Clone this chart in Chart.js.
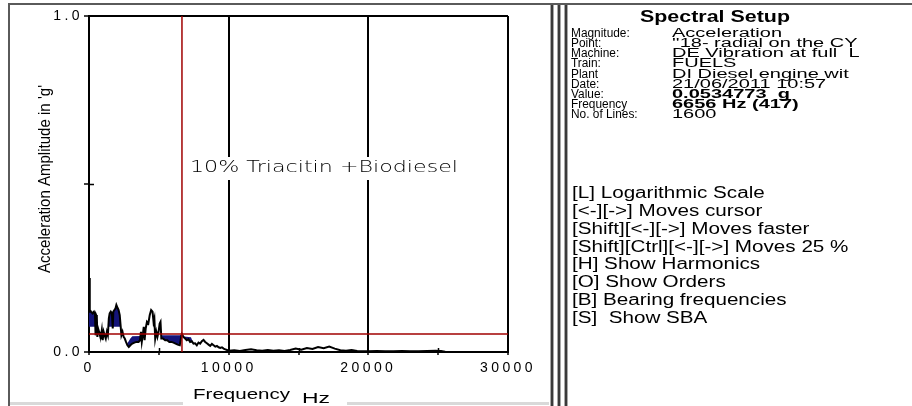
<!DOCTYPE html>
<html>
<head>
<meta charset="utf-8">
<script src="https://cdn.jsdelivr.net/npm/chart.js@4.4.1/dist/chart.umd.min.js"></script>
<style>
  html, body { margin: 0; padding: 0; background: #fff; overflow: hidden; }
  canvas { display: block; }
</style>
</head>
<body>
<canvas id="spectrum" width="912" height="406"></canvas>
<script>
// Acceleration spectrum (g) against frequency (Hz)
const freqHz = [0, 40, 70, 150, 250, 350, 430, 470, 510, 560, 600, 650, 720, 780, 850, 920, 980, 1050, 1120, 1200, 1280, 1350, 1420, 1480, 1560, 1640, 1700, 1740, 1820, 1900, 1960, 2060, 2120, 2200, 2260, 2320, 2400, 2480, 2560, 2650, 2750, 2850, 2960, 3100, 3250, 3400, 3550, 3650, 3720, 3780, 3850, 3920, 3980, 4060, 4150, 4250, 4350, 4450, 4550, 4620, 4680, 4740, 4820, 4900, 4980, 5060, 5120, 5180, 5300, 5450, 5600, 5750, 5900, 6050, 6200, 6350, 6500, 6580, 6656, 6760, 6880, 7000, 7120, 7240, 7360, 7480, 7600, 7720, 7840, 7960, 8080, 8200, 8320, 8440, 8560, 8680, 8800, 8920, 9040, 9160, 9280, 9400, 9520, 9640, 9760, 9880, 10000, 10400, 10800, 11200, 11600, 12000, 12400, 12800, 13200, 13600, 14000, 14400, 14800, 15200, 15600, 16000, 16400, 16800, 17200, 17600, 18000, 18400, 18800, 19200, 19600, 20000, 20600, 21200, 21800, 22400, 23000, 23600, 24200, 24800, 25200, 25500];
const amplitudeG = [0.12, 0.22, 0.125, 0.12, 0.115, 0.12, 0.11, 0.05, 0.11, 0.105, 0.045, 0.07, 0.06, 0.05, 0.045, 0.065, 0.035, 0.06, 0.05, 0.04, 0.06, 0.05, 0.10, 0.115, 0.12, 0.115, 0.07, 0.12, 0.125, 0.13, 0.14, 0.13, 0.125, 0.11, 0.08, 0.05, 0.06, 0.045, 0.04, 0.03, 0.02, 0.015, 0.02, 0.025, 0.028, 0.03, 0.03, 0.035, 0.06, 0.03, 0.05, 0.075, 0.035, 0.07, 0.09, 0.085, 0.11, 0.125, 0.12, 0.09, 0.10, 0.04, 0.06, 0.045, 0.06, 0.085, 0.09, 0.04, 0.04, 0.035, 0.035, 0.03, 0.03, 0.028, 0.025, 0.022, 0.02, 0.04, 0.0534773, 0.045, 0.04, 0.035, 0.038, 0.03, 0.032, 0.025, 0.026, 0.02, 0.028, 0.025, 0.032, 0.036, 0.03, 0.026, 0.022, 0.018, 0.024, 0.02, 0.016, 0.018, 0.014, 0.012, 0.014, 0.01, 0.008, 0.006, 0.004, 0.005, 0.003, 0.006, 0.008, 0.005, 0.004, 0.006, 0.004, 0.005, 0.003, 0.006, 0.01, 0.007, 0.012, 0.009, 0.015, 0.011, 0.016, 0.01, 0.005, 0.004, 0.006, 0.003, 0.002, 0.002, 0.003, 0.002, 0.002, 0.003, 0.002, 0.002, 0.003, 0.004, 0.003, 0.001];

// Lower bound of the dense low-frequency band (shaded where the trace rises above it)
const lowBandFreqHz = [0, 2320];
const lowBandG = [0.075, 0.075];

// Upper bound of the mid band (shaded where it stays above the trace)
const midBandFreqHz = [2700, 2960, 3100, 4400, 5200, 6500, 6656, 6800, 7300, 7480];
const midBandG = [0.022, 0.04, 0.047, 0.048, 0.05, 0.05, 0.052, 0.046, 0.044, 0.025];

// Cursor position and reading
const cursorFreqHz = 6656;
const cursorValueG = 0.0534773;

// Axis ticks
const xTickValues = [0, 5000, 10000, 15000, 20000, 25000, 30000];
const xLabelValues = [0, 10000, 20000, 30000];
const yTickValues = [0, 0.5, 1.0];
const yLabelValues = [0, 1.0];

// Texts
const traceTitle = '10% Triacitin +Biodiesel';
const yAxisTitle = "Acceleration Amplitude in 'g'";
const xAxisTitle = ['Frequency', 'Hz'];
const setupTitle = 'Spectral Setup';
const setupLabels = ['Magnitude:', 'Point:', 'Machine:', 'Train:', 'Plant', 'Date:', 'Value:', 'Frequency', 'No. of Lines:'];
const setupValues = ['Acceleration', "''18- radial on the CY", 'DE Vibration at full  L', 'FUELS', 'DI Diesel engine wit', '21/06/2011 10:57', '0.0534773  g', '6656 Hz (417)', '1600'];
const setupBold = [false, false, false, false, false, false, true, true, false];
const keyHelp = ['[L] Logarithmic Scale', '[<-][->] Moves cursor', '[Shift][<-][->] Moves faster', '[Shift][Ctrl][<-][->] Moves 25 %', '[H] Show Harmonics', '[O] Show Orders', '[B] Bearing frequencies', '[S]  Show SBA'];

const SANS = '"Liberation Sans", Arial, sans-serif';
const NAVY = '#14147a';
const CLEAR = 'rgba(0,0,0,0)';

function toPoints(xs, ys) { return xs.map((x, i) => ({ x: x, y: ys[i] })); }

// Draws text stretched horizontally by sx, or fitted to a width when fitW is given
function drawText(ctx, text, x, y, font, opts) {
  opts = opts || {};
  ctx.save();
  ctx.font = font;
  ctx.letterSpacing = '0px';
  let sx = opts.sx || 1;
  if (opts.fitW) sx = opts.fitW / ctx.measureText(text).width;
  ctx.translate(x, y);
  if (opts.rotate) ctx.rotate(opts.rotate);
  ctx.scale(sx, 1);
  ctx.textAlign = opts.align || 'left';
  ctx.textBaseline = 'middle';
  ctx.fillStyle = opts.color || '#000';
  ctx.fillText(text, 0, 0);
  ctx.restore();
}

// Wide tick lettering for the axes
const tickSpacing = {
  id: 'tickSpacing',
  beforeDraw(chart) { chart.ctx.letterSpacing = '3.4px'; },
  beforeDatasetsDraw(chart) { chart.ctx.letterSpacing = '0px'; }
};

// Window frame, captions and the setup panel
const decorations = {
  id: 'decorations',
  afterDatasetsDraw(chart) {
    const ctx = chart.ctx;
    const x = chart.scales.x, y = chart.scales.y;
    // inner halves of the minor tick marks
    ctx.save();
    ctx.strokeStyle = '#000';
    ctx.lineWidth = 1.5;
    ctx.beginPath();
    [5000, 15000, 25000].forEach(v => {
      const px = Math.round(x.getPixelForValue(v)) + 0.5;
      ctx.moveTo(px, y.bottom - 4); ctx.lineTo(px, y.bottom);
    });
    const py = Math.round(y.getPixelForValue(0.5)) + 0.5;
    ctx.moveTo(x.left, py); ctx.lineTo(x.left + 5, py);
    ctx.stroke();
    ctx.restore();

    // trace caption over a cleared strip
    ctx.save();
    ctx.fillStyle = '#fff';
    ctx.fillRect(185, 157, 277, 23);
    ctx.restore();
    drawText(ctx, traceTitle, 190, 168.5, '200 15px "DejaVu Sans"', { fitW: 268 });
  },
  afterDraw(chart) {
    const ctx = chart.ctx;
    ctx.save();
    // outer frame
    ctx.strokeStyle = '#5a5a5a';
    ctx.lineWidth = 2;
    ctx.beginPath();
    ctx.moveTo(9, 406); ctx.lineTo(9, 4); ctx.lineTo(912, 4);
    ctx.stroke();
    ctx.strokeStyle = '#d9d9d9';
    ctx.lineWidth = 3;
    ctx.beginPath();
    ctx.moveTo(10, 403.5); ctx.lineTo(183, 403.5);
    ctx.moveTo(347, 403.5); ctx.lineTo(549, 403.5);
    ctx.stroke();
    // splitter bars
    [550, 557, 564].forEach(bx => {
      ctx.fillStyle = '#a8a8a8'; ctx.fillRect(bx, 5, 4, 401);
      ctx.fillStyle = '#3a3a3a'; ctx.fillRect(bx + 1, 5, 2, 401);
    });
    ctx.restore();

    // axis titles
    drawText(ctx, yAxisTitle, 45, 179, '17px ' + SANS, { fitW: 188, rotate: -Math.PI / 2, align: 'center' });
    drawText(ctx, xAxisTitle[0], 193, 395, '14px ' + SANS, { fitW: 97 });
    drawText(ctx, xAxisTitle[1], 302, 399, '14px ' + SANS, { fitW: 28 });

    // setup panel
    drawText(ctx, setupTitle, 640, 17.5, 'bold 17px ' + SANS, { fitW: 150 });
    setupLabels.forEach((t, i) => {
      drawText(ctx, t, 571, 33.5 + i * 10.15, '12.5px ' + SANS, { sx: 0.95 });
    });
    setupValues.forEach((t, i) => {
      drawText(ctx, t, 672, 33.5 + i * 10.15, (setupBold[i] ? 'bold ' : '') + '12.5px ' + SANS, { sx: 1.6 });
    });
    keyHelp.forEach((t, i) => {
      drawText(ctx, t, 572, 194 + i * 17.76, '16px ' + SANS, { sx: 1.29 });
    });
  }
};

const chart = new Chart(document.getElementById('spectrum'), {
  type: 'line',
  data: {
    datasets: [
      { // cursor level
        data: [{ x: 0, y: cursorValueG }, { x: 30000, y: cursorValueG }],
        borderColor: '#a00000', borderWidth: 1.5, pointRadius: 0, fill: false
      },
      { // cursor frequency
        data: [{ x: cursorFreqHz, y: 0 }, { x: cursorFreqHz, y: 1 }],
        borderColor: '#a00000', borderWidth: 1.5, pointRadius: 0, fill: false
      },
      { // spectrum trace
        data: toPoints(freqHz, amplitudeG),
        borderColor: '#000', borderWidth: 2, pointRadius: 0, fill: false
      },
      { // low band shading
        data: toPoints(lowBandFreqHz, lowBandG),
        borderWidth: 0, borderColor: CLEAR, pointRadius: 0, backgroundColor: NAVY,
        fill: { target: 2, above: CLEAR, below: NAVY }
      },
      { // mid band shading
        data: toPoints(midBandFreqHz, midBandG),
        borderWidth: 0, borderColor: CLEAR, pointRadius: 0, backgroundColor: NAVY,
        fill: { target: 2, above: NAVY, below: CLEAR }
      }
    ]
  },
  options: {
    responsive: false,
    animation: false,
    devicePixelRatio: 1,
    layout: { padding: { left: 0, top: 16, right: 404, bottom: 0 } },
    elements: { line: { tension: 0 }, point: { radius: 0 } },
    plugins: { legend: { display: false }, tooltip: { enabled: false }, title: { display: false } },
    scales: {
      x: {
        type: 'linear', min: 0, max: 30000,
        afterBuildTicks(s) { s.ticks = xTickValues.map(v => ({ value: v })); },
        afterFit(s) { s.height = 54; },
        ticks: {
          autoSkip: false, maxRotation: 0, color: '#000', padding: 5,
          font: { family: SANS, size: 14 },
          callback: v => xLabelValues.includes(v) ? String(v) : ''
        },
        grid: {
          color: c => (c.tick && c.tick.value > 0 && c.tick.value % 10000 === 0) ? '#000' : CLEAR,
          lineWidth: 2, tickColor: '#000', tickLength: 3, tickWidth: 1.5
        },
        border: { display: true, color: '#000', width: 2 }
      },
      y: {
        type: 'linear', min: 0, max: 1,
        afterBuildTicks(s) { s.ticks = yTickValues.map(v => ({ value: v })); },
        afterFit(s) { s.width = 89; },
        ticks: {
          color: '#000', padding: 1,
          font: { family: SANS, size: 14 },
          callback: v => yLabelValues.includes(v) ? v.toFixed(1) : ''
        },
        grid: {
          color: c => (c.tick && c.tick.value === 1) ? '#000' : CLEAR,
          lineWidth: 2, tickColor: '#000', tickLength: 5, tickWidth: 1.5
        },
        border: { display: true, color: '#000', width: 2 }
      }
    }
  },
  plugins: [tickSpacing, decorations]
});
</script>
</body>
</html>
